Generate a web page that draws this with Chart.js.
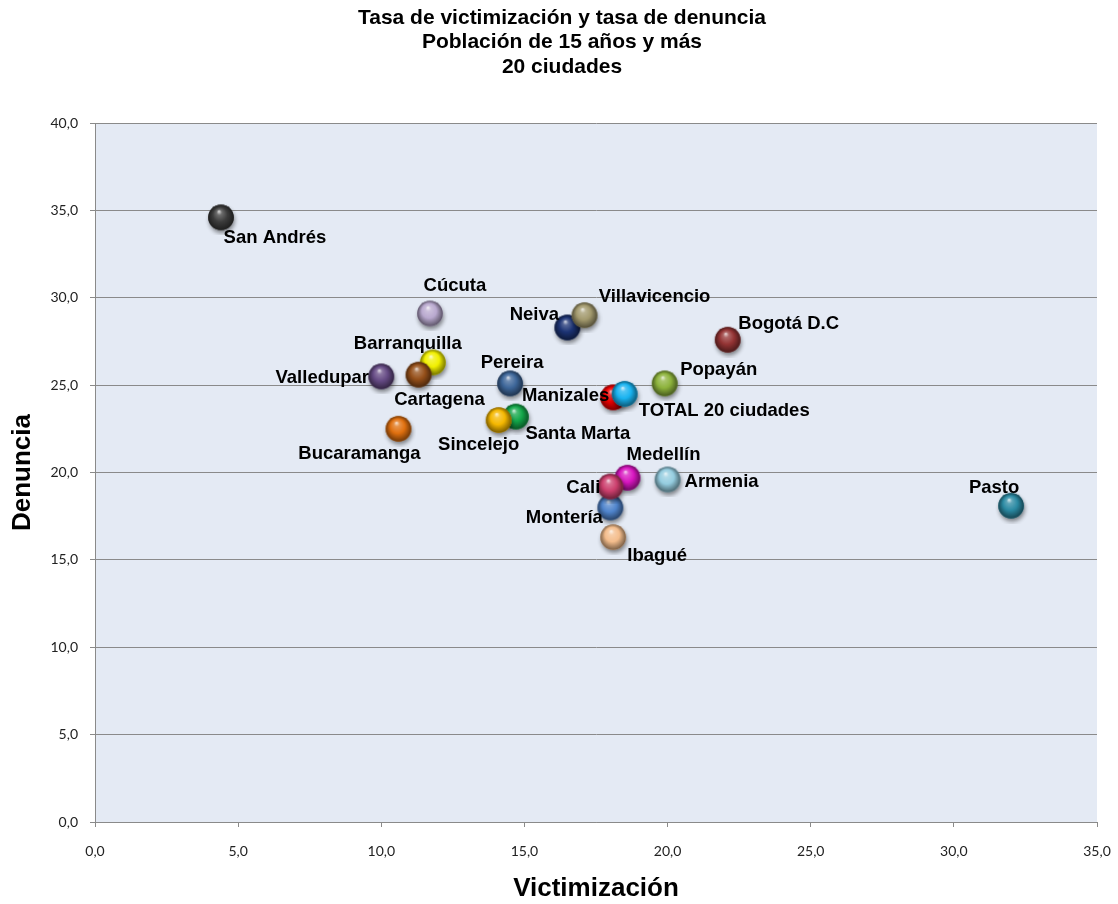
<!DOCTYPE html>
<html>
<head>
<meta charset="utf-8">
<script src="https://cdn.jsdelivr.net/npm/chart.js@4/dist/chart.umd.min.js"></script>
<style>
  body { margin: 0; background: #fff; }
  #wrap { width: 1118px; height: 904px; position: relative; }
</style>
</head>
<body>
<div id="wrap"><canvas id="scatterChart"></canvas></div>
<script>
// datos
const titulo = ['Tasa de victimización y tasa de denuncia', 'Población de 15 años y más', '20 ciudades'];
const ciudades = ['San Andrés', 'Cúcuta', 'Neiva', 'Villavicencio', 'Bogotá D.C', 'Barranquilla',
    'Cartagena', 'Valledupar', 'Pereira', 'Popayán', 'TOTAL 20 ciudades', 'Manizales',
    'Santa Marta', 'Sincelejo', 'Bucaramanga', 'Medellín', 'Armenia', 'Montería', 'Cali',
    'Ibagué', 'Pasto'];
const victimizacion = [4.4, 11.7, 16.5, 17.1, 22.1, 11.8, 11.3, 10.0, 14.5, 19.9, 18.1, 18.5,
    14.7, 14.1, 10.6, 18.6, 20.0, 18.0, 18.0, 18.1, 32.0];
const denuncia = [34.6, 29.1, 28.3, 29.0, 27.6, 26.3, 25.6, 25.5, 25.1, 25.1, 24.3, 24.5,
    23.2, 23.0, 22.5, 19.7, 19.6, 18.0, 19.2, 16.3, 18.1];
const xTicks = [0, 5, 10, 15, 20, 25, 30, 35];
const yTicks = [0, 5, 10, 15, 20, 25, 30, 35, 40];

// estilo de cada esfera y posicion de su etiqueta (dx, dy en px)
const colores = ['#3c3c3c', '#b9a9cf', '#1c3374', '#a39a6e', '#943434', '#f2f000',
    '#96501a', '#654a84', '#3d6699', '#8db33c', '#f00000', '#19b3f0',
    '#13a84a', '#f5b800', '#e0700f', '#d815c0', '#95cde0', '#4f84cc', '#cc3f6d',
    '#f4bd8c', '#2b8aa3'];
const etiquetaPos = [[54, 21], [25, -28], [-33, -13], [70, -18], [61, -16], [-25, -19],
    [21, 25], [-59, 2], [2, -20], [54, -13], [111, 14], [-59, 2],
    [62, 17], [-20, 25], [-39, 25], [36, -23], [54, 2], [-46, 10], [-27, 1],
    [44, 19], [-17, -18]];

const fmt = (v) => v.toFixed(1).replace('.', ',');
const arial = '"Liberation Sans", Arial, sans-serif';

function mix(hex, other, t) {
    const a = parseInt(hex.slice(1), 16), b = parseInt(other.slice(1), 16);
    const ch = (n, s) => (n >> s) & 255;
    const m = (s) => Math.round(ch(a, s) * (1 - t) + ch(b, s) * t);
    return `rgb(${m(16)}, ${m(8)}, ${m(0)})`;
}

function makeBall(hex) {
    const c = document.createElement('canvas');
    c.width = 36; c.height = 36;
    const g = c.getContext('2d');
    const cx = 18, cy = 18, r = 12.8;
    g.save();
    g.shadowColor = 'rgba(0,0,0,0.45)';
    g.shadowBlur = 4;
    g.shadowOffsetX = 1;
    g.shadowOffsetY = 3;
    g.fillStyle = hex;
    g.beginPath(); g.arc(cx, cy, r, 0, Math.PI * 2); g.fill();
    g.restore();
    const grad = g.createRadialGradient(cx - 2, cy - 6, 0.5, cx, cy, r);
    grad.addColorStop(0, mix(hex, '#ffffff', 0.75));
    grad.addColorStop(0.18, mix(hex, '#ffffff', 0.25));
    grad.addColorStop(0.55, hex);
    grad.addColorStop(1, mix(hex, '#000000', 0.5));
    g.fillStyle = grad;
    g.beginPath(); g.arc(cx, cy, r, 0, Math.PI * 2); g.fill();
    return c;
}

const esferas = colores.map(makeBall);

const plotBg = {
    id: 'plotBg',
    beforeDraw(chart) {
        const {ctx, chartArea: a} = chart;
        ctx.save();
        ctx.fillStyle = '#e4eaf4';
        ctx.fillRect(a.left, a.top, a.right - a.left, a.bottom - a.top);
        ctx.restore();
    }
};

const tituloPlugin = {
    id: 'titulo',
    afterDraw(chart) {
        const ctx = chart.ctx;
        ctx.save();
        ctx.font = 'bold 21px ' + arial;
        ctx.fillStyle = '#000';
        ctx.textAlign = 'center';
        ctx.textBaseline = 'middle';
        titulo.forEach((t, i) => ctx.fillText(t, chart.width / 2 + 3, 18 + i * 24.5));
        ctx.restore();
    }
};

const etiquetas = {
    id: 'etiquetas',
    afterDatasetsDraw(chart) {
        const ctx = chart.ctx;
        const meta = chart.getDatasetMeta(0);
        ctx.save();
        ctx.font = 'bold 18.5px ' + arial;
        ctx.fillStyle = '#000';
        ctx.textAlign = 'center';
        ctx.textBaseline = 'middle';
        meta.data.forEach((pt, i) => {
            const [dx, dy] = etiquetaPos[i];
            ctx.fillText(ciudades[i], pt.x + dx, pt.y + dy);
        });
        ctx.restore();
    }
};

const puntos = ciudades.map((c, i) => ({x: victimizacion[i], y: denuncia[i]}));
const tickFont = {family: 'Lato, "Open Sans", sans-serif', size: 14};
const gris = '#8a8a8a';

new Chart(document.getElementById('scatterChart'), {
    type: 'scatter',
    data: {
        datasets: [{
            data: puntos,
            pointStyle: esferas,
            pointRadius: 12,
            pointHoverRadius: 12
        }]
    },
    options: {
        responsive: true,
        maintainAspectRatio: false,
        animation: false,
        events: [],
        layout: {padding: {left: 0, right: 21, top: 123, bottom: 0}},
        plugins: {
            legend: {display: false},
            tooltip: {enabled: false},
            title: {display: false}
        },
        scales: {
            x: {
                type: 'linear',
                min: 0, max: 35,
                afterBuildTicks: (s) => { s.ticks = xTicks.map(v => ({value: v})); },
                afterFit: (s) => { s.height = 82; s.paddingLeft = 0; s.paddingRight = 0; },
                ticks: {callback: fmt, font: tickFont, color: '#222', padding: 16, maxRotation: 0},
                grid: {drawOnChartArea: false, color: gris, tickLength: 5},
                border: {color: gris},
                title: {
                    display: true, text: 'Victimización', color: '#000',
                    font: {family: arial, size: 26, weight: 'bold', lineHeight: 1.2},
                    padding: {top: 0, bottom: 0}
                }
            },
            y: {
                type: 'linear',
                min: 0, max: 40,
                afterBuildTicks: (s) => { s.ticks = yTicks.map(v => ({value: v})); },
                afterFit: (s) => { s.width = 95; },
                ticks: {callback: fmt, font: tickFont, color: '#222', padding: 12},
                grid: {color: gris, tickLength: 5},
                border: {color: gris},
                title: {
                    display: true, text: 'Denuncia', color: '#000',
                    font: {family: arial, size: 26, weight: 'bold', lineHeight: 1.2},
                    padding: {top: 7, bottom: 0}
                }
            }
        }
    },
    plugins: [plotBg, etiquetas, tituloPlugin]
});
</script>
</body>
</html>
